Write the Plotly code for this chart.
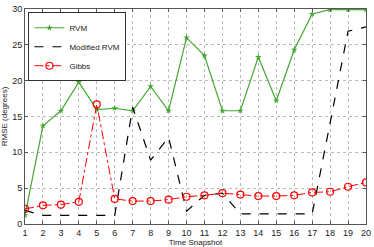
import plotly.graph_objects as go

snapshots = list(range(1, 21))

rvm = [1.2, 13.7, 15.8, 19.8, 15.95, 16.15, 15.8, 19.2, 15.8, 26.0,
       23.5, 15.8, 15.8, 23.3, 17.2, 24.3, 29.3, 29.9, 29.9, 29.9]

modified_rvm = [1.9, 1.2, 1.2, 1.2, 1.2, 1.2, 16.3, 8.9, 12.1, 1.8,
                4.0, 4.3, 1.4, 1.4, 1.4, 1.4, 1.4, 14.1, 26.9, 27.5]

gibbs = [2.1, 2.6, 2.7, 3.1, 16.7, 3.5, 3.2, 3.2, 3.4, 3.8,
         4.0, 4.3, 4.1, 3.9, 3.9, 4.0, 4.4, 4.5, 5.2, 5.8]

y_ticks = [0, 5, 10, 15, 20, 25, 30]

green = "#44A832"

fig = go.Figure()

fig.add_trace(go.Scatter(
    x=snapshots, y=rvm, name="RVM", mode="lines+markers",
    line=dict(color=green, width=1.2),
    marker=dict(symbol="star", size=5, color=green)
))

fig.add_trace(go.Scatter(
    x=snapshots, y=modified_rvm, name="Modified RVM", mode="lines",
    line=dict(color="black", width=1.2, dash="dash")
))

fig.add_trace(go.Scatter(
    x=snapshots, y=gibbs, name="Gibbs", mode="lines+markers",
    line=dict(color="red", width=1, dash="dashdot"),
    marker=dict(symbol="circle-open", size=7, color="red", line=dict(width=1.2))
))

axis_common = dict(
    showline=True, mirror="ticks", linecolor="#555555", linewidth=1,
    ticks="inside", ticklen=3, tickcolor="#555555",
    showgrid=True, gridcolor="#BBBBBB", griddash="dot", gridwidth=1,
    zeroline=False, automargin=False,
    tickfont=dict(size=9, color="#222222"),
)

fig.update_layout(
    width=374, height=247,
    margin=dict(l=25, r=8, t=9, b=23),
    paper_bgcolor="white", plot_bgcolor="white",
    font=dict(family="Liberation Sans, Arial, sans-serif", size=9, color="#222222"),
    showlegend=True,
    legend=dict(
        x=0.01, y=0.985, xanchor="left", yanchor="top",
        bgcolor="white", bordercolor="#333333", borderwidth=1,
        font=dict(size=8), tracegroupgap=0,
        itemwidth=30,
    ),
    xaxis=dict(
        axis_common, range=[1, 20], tickmode="array", tickvals=snapshots,
        title=dict(text="Time Snapshot", font=dict(size=8)),
    ),
    yaxis=dict(
        axis_common, range=[0, 30], tickmode="array", tickvals=y_ticks,
        title=dict(text="RMSE (degrees)", font=dict(size=8)),
    ),
)

# the page body has a default margin; drop it so the figure sits at 0,0
fig.write_html(
    "out.html",
    config={"displayModeBar": False},
    post_script="document.body.style.margin='0';",
)
